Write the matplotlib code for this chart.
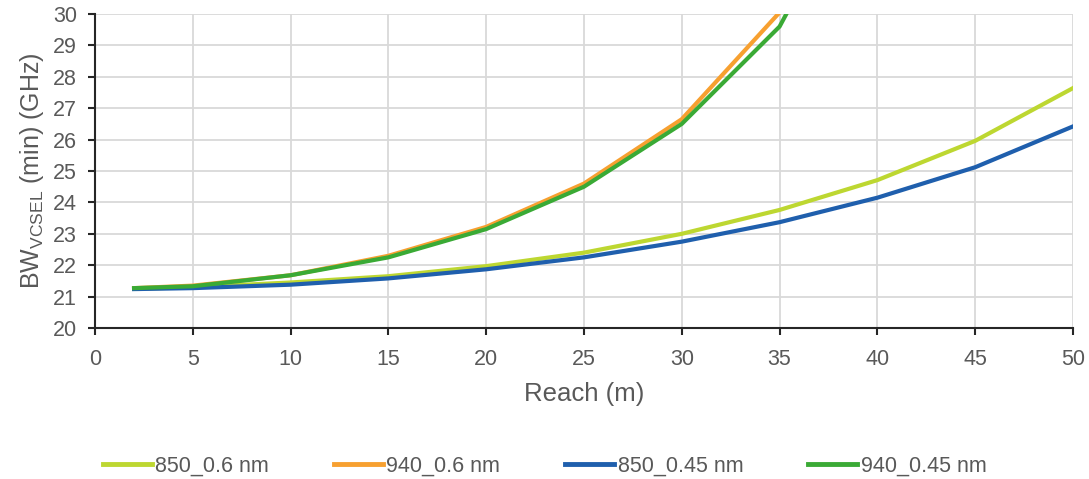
import matplotlib.pyplot as plt

plt.rcParams['font.family'] = ['Liberation Sans', 'DejaVu Sans']

reach = [2, 5, 10, 15, 20, 25, 30, 35, 40, 45, 50]
bw_850_06 = [21.25, 21.3, 21.45, 21.65, 21.97, 22.4, 23.0, 23.76, 24.71, 25.96, 27.64]
bw_850_045 = [21.24, 21.27, 21.38, 21.58, 21.87, 22.25, 22.75, 23.37, 24.15, 25.12, 26.42]
reach_940 = [2, 5, 10, 15, 20, 25, 30, 35, 40]
bw_940_06 = [21.27, 21.35, 21.68, 22.3, 23.22, 24.6, 26.65, 30.05, 36.0]
bw_940_045 = [21.27, 21.33, 21.68, 22.25, 23.15, 24.5, 26.5, 29.6, 35.4]

grey = '#595959'
fig = plt.figure(figsize=(10.89, 4.79), dpi=100)
ax = fig.add_axes([0.0872, 0.3152, 0.8981, 0.6556])

ax.plot(reach, bw_850_06, color='#BDD731', lw=3, label='850_0.6 nm', solid_joinstyle='round')
ax.plot(reach_940, bw_940_06, color='#F7A030', lw=3, label='940_0.6 nm', solid_joinstyle='round')
ax.plot(reach, bw_850_045, color='#1F5FAD', lw=3, label='850_0.45 nm', solid_joinstyle='round')
ax.plot(reach_940, bw_940_045, color='#3AAA35', lw=3, label='940_0.45 nm', solid_joinstyle='round')

ax.set_xlim(0, 50)
ax.set_ylim(20, 30)
ax.set_xticks(range(0, 51, 5))
ax.set_yticks(range(20, 31))
ax.grid(True, color='#D9D9D9', lw=1.3)
ax.set_axisbelow(True)
for s in ['top', 'right']:
    ax.spines[s].set_visible(False)
for s in ['left', 'bottom']:
    ax.spines[s].set_color('#262626')
    ax.spines[s].set_linewidth(1.5)
ax.tick_params(axis='both', colors='#262626', width=1.5, length=5, labelsize=15.5, labelcolor=grey)
ax.tick_params(axis='y', pad=8)
ax.tick_params(axis='x', pad=10)

ax.set_xlabel('Reach (m)', fontsize=18.5, color=grey, labelpad=9)
ax.set_ylabel(r'BW$_{\mathregular{VCSEL}}$ (min) (GHz)', fontsize=18, color=grey, labelpad=5)

leg = fig.legend(loc='lower center', bbox_to_anchor=(0.5, -0.035), ncol=4, frameon=False,
                 fontsize=15.5, handlelength=2.3, handletextpad=0.15, columnspacing=3.0)
for t in leg.get_texts():
    t.set_color(grey)
for h in leg.get_lines():
    h.set_linewidth(3.5)

fig.savefig('out.png', dpi=100)
